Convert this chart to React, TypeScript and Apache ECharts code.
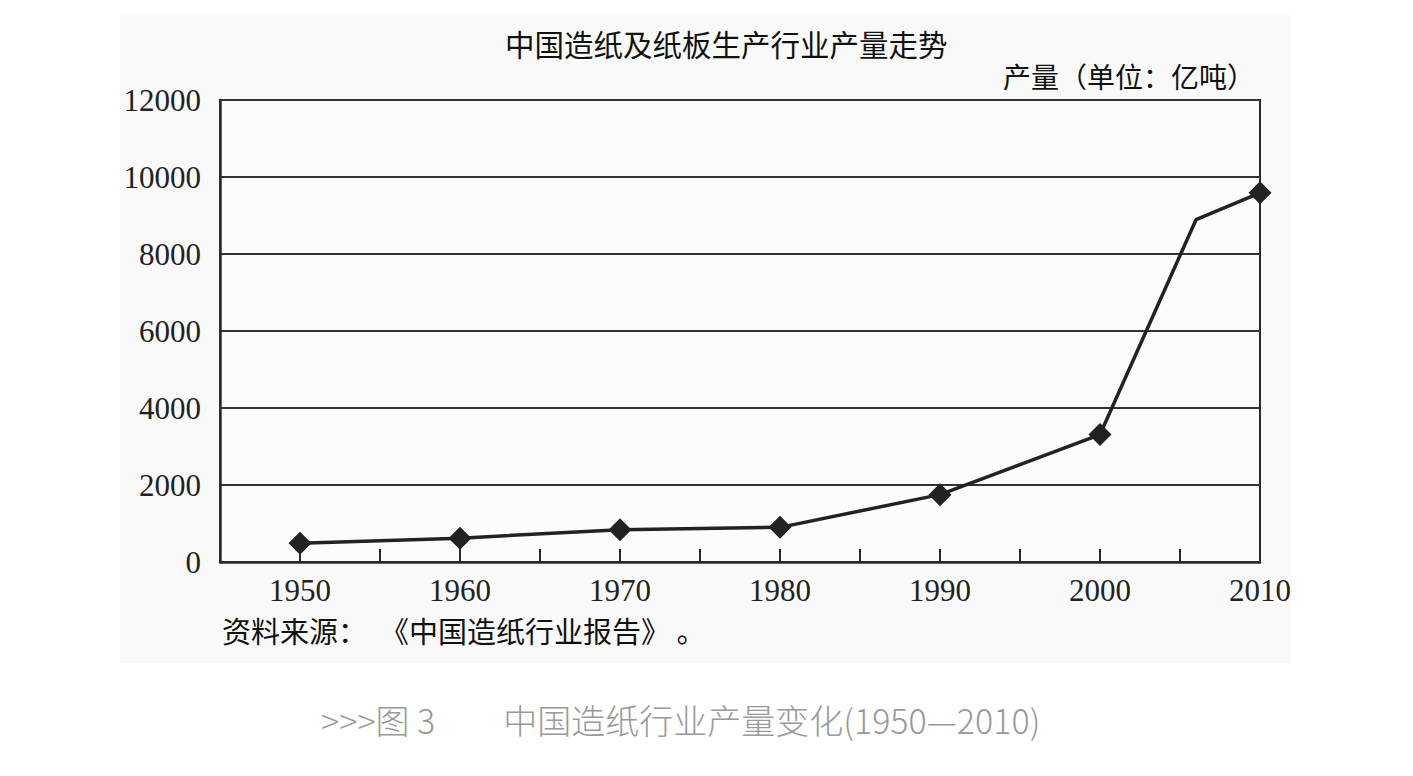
import React, { useEffect, useRef } from "react";
import * as echarts from "echarts";

// 年份与产量（亿吨）
const years = [1950, 1960, 1970, 1980, 1990, 2000, 2006, 2010];
const output = [490, 620, 840, 900, 1750, 3310, 8890, 9590];
// 这些年份画菱形标记
const markedYears = [1950, 1960, 1970, 1980, 1990, 2000, 2010];

const yTicks = [0, 2000, 4000, 6000, 8000, 10000, 12000];

const titleText = "中国造纸及纸板生产行业产量走势";
const unitText = "产量（单位：亿吨）";
const sourceText = "资料来源：  《中国造纸行业报告》 。";
const captionText = ">>>图 3　　中国造纸行业产量变化(1950—2010)";

const CJK = '"Noto Sans CJK SC", "Noto Sans", sans-serif';
const SERIF = '"Liberation Serif", "DejaVu Serif", serif';

const App = () => {
  const chartRef = useRef<HTMLDivElement>(null);

  useEffect(() => {
    if (!chartRef.current) return;
    const chart = echarts.init(chartRef.current, null, { renderer: "svg" });

    const data = years.map((y, i) =>
      markedYears.includes(y)
        ? { value: [y, output[i]] }
        : { value: [y, output[i]], symbol: "none" }
    );

    chart.setOption({
      animation: false,
      backgroundColor: "#ffffff",
      title: {
        text: titleText,
        left: 500,
        top: 23,
        textStyle: { fontFamily: CJK, fontSize: 29.5, fontWeight: "normal", color: "#111" },
      },
      graphic: [
        {
          type: "rect",
          z: -10,
          silent: true,
          shape: { x: 120, y: 15, width: 1171, height: 648 },
          style: { fill: "#f9f9f9" },
        },
        {
          type: "text",
          right: 158,
          top: 62,
          style: { text: unitText, font: `normal 28px ${CJK}`, fill: "#111" },
        },
        {
          type: "text",
          left: 222,
          top: 615,
          style: { text: sourceText, font: `normal 29px ${CJK}`, fill: "#111" },
        },
        {
          type: "text",
          left: 321,
          top: 702,
          style: { text: captionText, font: `300 34px ${CJK}`, fill: "#999" },
        },
      ],
      grid: {
        left: 220,
        right: 153,
        top: 100,
        bottom: 214,
        show: true,
        borderColor: "#2a2a2a",
        borderWidth: 2,
        backgroundColor: "#fcfcfc",
      },
      xAxis: {
        type: "value",
        min: 1945,
        max: 2010,
        interval: 5,
        axisLine: { show: true, lineStyle: { color: "#2a2a2a", width: 2.5 } },
        axisTick: { show: true, inside: true, length: 13, lineStyle: { color: "#2a2a2a", width: 2 } },
        splitLine: { show: false },
        axisLabel: {
          margin: 13,
          fontFamily: SERIF,
          fontSize: 31,
          color: "#222",
          formatter: (v: number) => (v % 10 === 0 && v >= 1950 ? String(v) : ""),
        },
      },
      yAxis: {
        type: "value",
        min: yTicks[0],
        max: yTicks[yTicks.length - 1],
        interval: 2000,
        axisLine: { show: true, lineStyle: { color: "#2a2a2a", width: 2.5 } },
        axisTick: { show: false },
        splitLine: { show: true, lineStyle: { color: "#333", width: 1.8 } },
        axisLabel: {
          margin: 19,
          fontFamily: SERIF,
          fontSize: 31,
          color: "#222",
          formatter: (v: number) => String(v),
        },
      },
      series: [
        {
          type: "line",
          data,
          symbol: "diamond",
          symbolSize: 23,
          showSymbol: true,
          lineStyle: { color: "#222", width: 3.5 },
          itemStyle: { color: "#222" },
          z: 5,
        },
      ],
    });

    return () => {
      chart.dispose();
    };
  }, []);

  return (
    <div
      ref={chartRef}
      style={{ position: "fixed", left: 0, top: 0, width: "1413px", height: "776px" }}
    />
  );
};

export default App;
